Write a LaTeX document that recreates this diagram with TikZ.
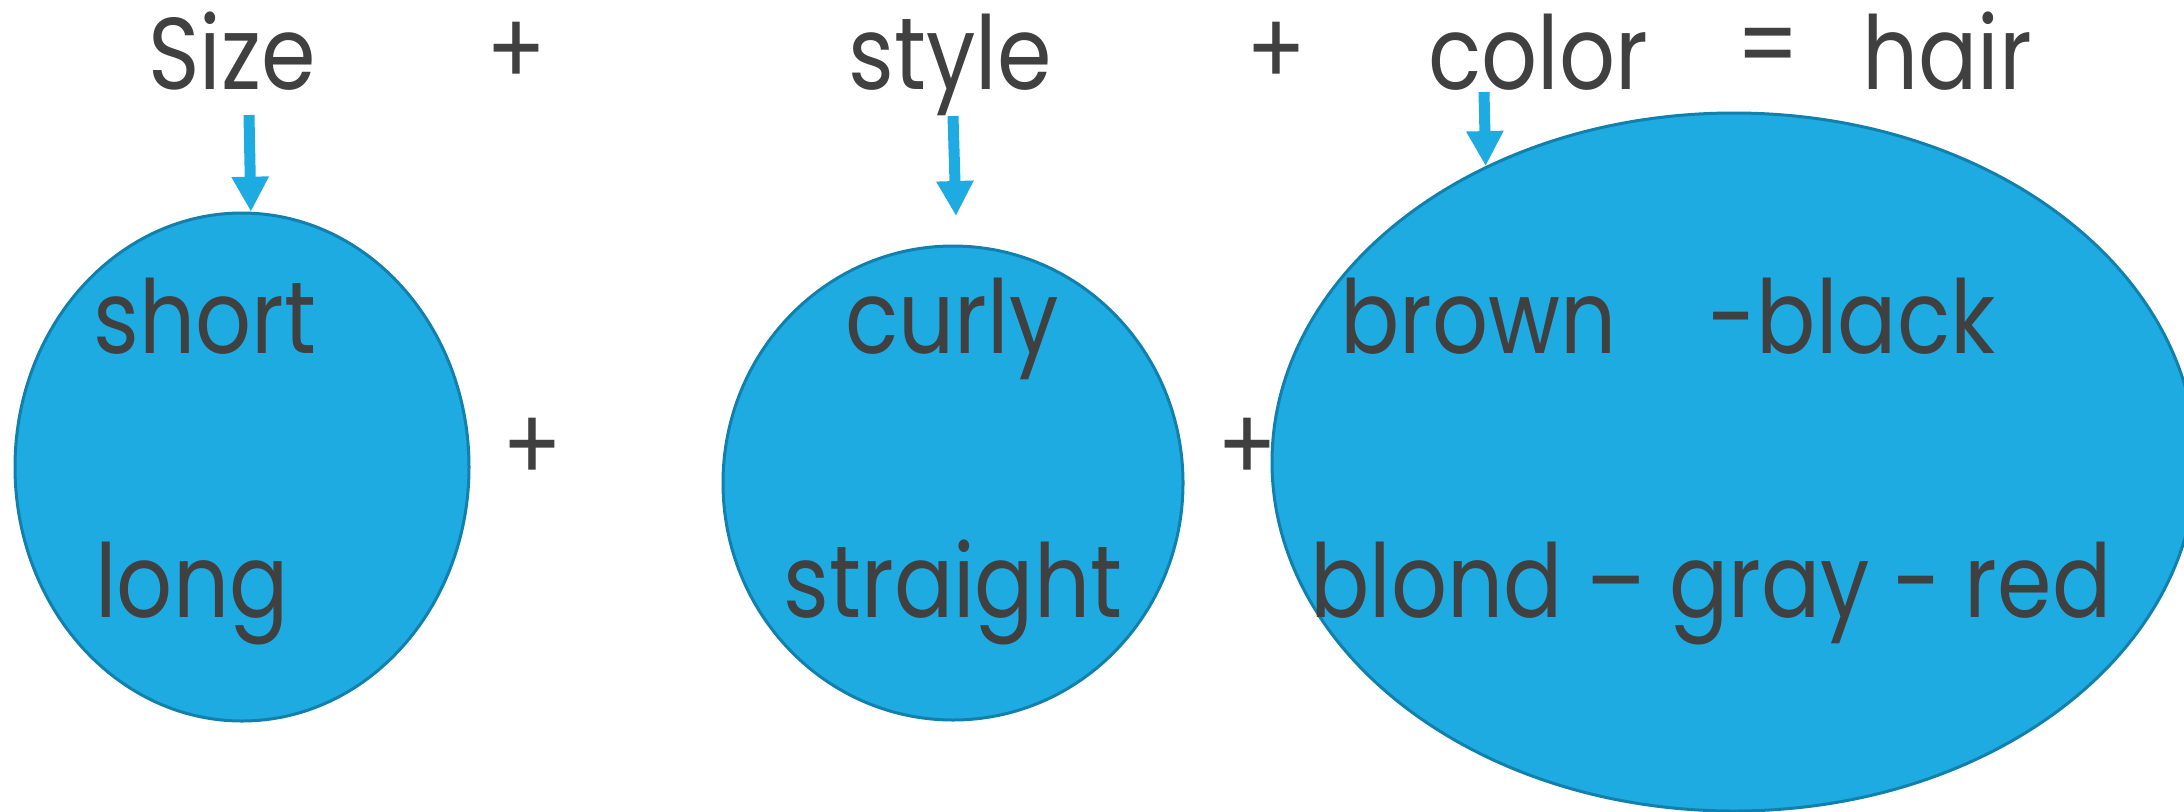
\documentclass[tikz,border=0pt]{standalone}
\usepackage{fontspec}
\setmainfont{Poppins}[FakeStretch = 0.86]
\usetikzlibrary{shapes.geometric,arrows.meta}
\definecolor{bubble}{RGB}{30,171,226}
\definecolor{bubbleline}{RGB}{18,128,172}
\definecolor{ink}{RGB}{64,64,64}
\tikzset{
    bubble-box/.style = {draw=bubbleline, fill=bubble, line width=1.5pt, ellipse, inner sep=0pt},
    word/.style = {text=ink, font=\fontsize{51}{60}\selectfont, inner sep=0pt, anchor=base},
    pointer/.style = {draw=bubble, line width=5.5pt, -{Triangle[width=17.5pt,length=17.5pt]}},
}

\begin{document}
\begin{tikzpicture}[x=0.5pt, y=-0.5pt]
\useasboundingbox (0,0) rectangle (2184,811);
% top line
\node[word] (size) at (232,89) {Size};
\node[word, anchor=center] (plus-a) at (516,54) {+};
\node[word] (style) at (950,89) {style};
\node[word, anchor=center] (plus-b) at (1276,54) {+};
\node[word] (color) at (1538,89) {color};
\node[word, anchor=center] (equals) at (1768,54) {=};
\node[word] (hair) at (1947,89) {hair};
% bubbles
\node[bubble-box, minimum width=227pt, minimum height=254pt] (size-bubble) at (242,467) {};
\node[word, anchor=base west] (short) at (93,353) {short};
\node[word, anchor=base west] (long) at (95,617) {long};
\node[word, anchor=center] (plus-c) at (532,450) {+};
\node[bubble-box, minimum width=230pt, minimum height=237pt] (style-bubble) at (953,483) {};
\node[word] (curly) at (952,353) {curly};
\node[word] (straight) at (953,617) {straight};
\node[word, anchor=center] (plus-d) at (1247,450) {+};
\node[bubble-box, minimum width=462pt, minimum height=349pt] (color-bubble) at (1734,462) {};
\node[word, anchor=base west] (dark) at (1340,353) {brown\hspace{46pt}-black};
\node[word, anchor=base west] (light) at (1310,617) {blond – gray - red};
% pointers
\coordinate (size-tail) at (249,115);
\coordinate (style-tail) at (953,116);
\coordinate (style-tip) at (956,216);
\coordinate (color-tail) at (1484,92);
\draw[pointer] (size-tail) -- (size-bubble.88);
\draw[pointer] (style-tail) -- (style-tip);
\draw[pointer] (color-tail) -- (color-bubble.130);
\end{tikzpicture}
\end{document}
